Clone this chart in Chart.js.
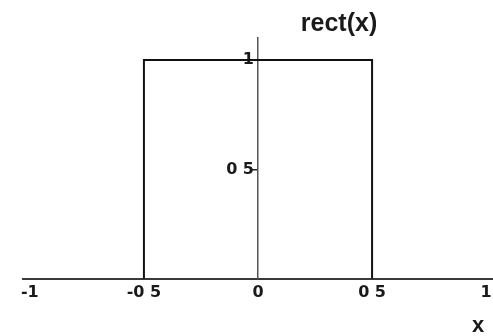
<!DOCTYPE html>
<html>
<head>
<meta charset="utf-8">
<script src="https://cdn.jsdelivr.net/npm/chart.js@4"></script>
<style>
  html, body { margin: 0; padding: 0; background: #fff; }
  #wrap { width: 493px; height: 336px; }
</style>
</head>
<body>
<div id="wrap"><canvas id="rectChart"></canvas></div>
<script>
// rect(x) outline
const rectX = [-0.5, -0.5, 0.5, 0.5];
const rectY = [0, 1, 1, 0];

// axis ticks
const xTicks = [-1, -0.5, 0, 0.5, 1];
const xTickLabels = ['-1', '-0 5', '0', '0 5', '1'];
const yTicks = [0.5, 1];
const yTickLabels = ['0 5', '1'];

const titleText = 'rect(x)';
const xLabelText = 'x';

const labelsPlugin = {
    id: 'labels',
    afterLayout(chart) {
        // y axis sits at x=0, so chart.js puts its labels right on the line: push them left of the tick marks
        const ys = chart.scales.y;
        try {
            ys.getLabelItems(chart.chartArea).forEach(item => { item.options.translation[0] -= 4; });
        } catch (e) {}
    },
    afterDraw(chart) {
        const ctx = chart.ctx;
        const xs = chart.scales.x;
        ctx.save();
        ctx.fillStyle = '#1a1a1a';
        ctx.textAlign = 'center';
        ctx.textBaseline = 'alphabetic';
        ctx.font = 'bold 25px "Liberation Sans", Arial, sans-serif';
        ctx.fillText(titleText, xs.getPixelForValue(0.355), 31);
        ctx.font = 'bold 22px "Liberation Sans", Arial, sans-serif';
        ctx.fillText(xLabelText, xs.getPixelForValue(0.965), 332);
        ctx.restore();
    }
};

const ctxRect = document.getElementById('rectChart');
new Chart(ctxRect, {
    type: 'scatter',
    data: {
        datasets: [{
            data: rectX.map((x, i) => ({ x: x, y: rectY[i] })),
            showLine: true,
            borderColor: '#111',
            borderWidth: 2,
            pointRadius: 0,
            tension: 0
        }]
    },
    options: {
        responsive: true,
        maintainAspectRatio: false,
        animation: false,
        layout: { padding: { left: 23, right: 0, top: 38, bottom: 30 } },
        plugins: {
            legend: { display: false },
            tooltip: { enabled: false }
        },
        scales: {
            x: {
                type: 'linear',
                min: -1.03,
                max: 1.03,
                afterBuildTicks: (s) => { s.ticks = xTicks.map(v => ({ value: v })); },
                afterFit: (s) => { s.paddingLeft = 0; s.paddingRight = 0; },
                grid: { display: false, drawTicks: false },
                border: { display: true, color: '#3a3a3a', width: 2 },
                ticks: {
                    padding: 4,
                    color: '#1a1a1a',
                    font: { family: 'DejaVu Sans', size: 16, weight: 'bold' },
                    maxRotation: 0,
                    autoSkip: false,
                    callback: (v) => xTickLabels[xTicks.indexOf(v)]
                }
            },
            y: {
                type: 'linear',
                position: { x: 0 },
                min: 0,
                max: 1.1,
                afterBuildTicks: (s) => { s.ticks = yTicks.map(v => ({ value: v })); },
                grid: { display: true, drawOnChartArea: false, drawTicks: true, tickLength: 5, color: '#222', lineWidth: 1.5 },
                border: { display: true, color: '#555', width: 1.5 },
                ticks: {
                    padding: 0,
                    color: '#1a1a1a',
                    font: { family: 'DejaVu Sans', size: 16, weight: 'bold' },
                    autoSkip: false,
                    callback: (v) => yTickLabels[yTicks.indexOf(v)]
                }
            }
        }
    },
    plugins: [labelsPlugin]
});
</script>
</body>
</html>
